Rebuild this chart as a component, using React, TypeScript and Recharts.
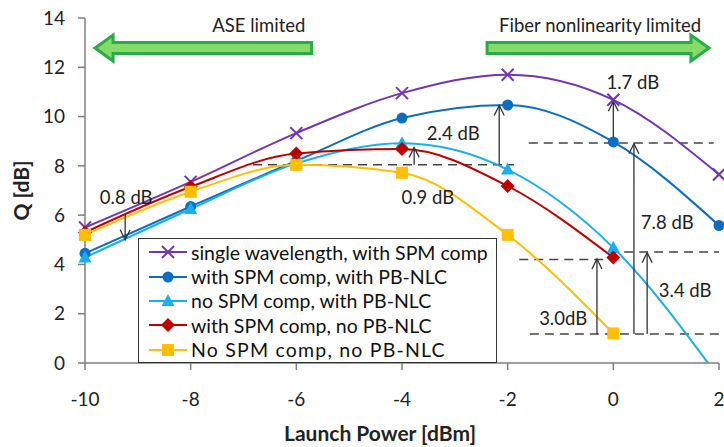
import { LineChart, Line, XAxis, YAxis, ReferenceLine, ReferenceDot } from "recharts";

// Launch power sweep (dBm) and Q factor (dB) per configuration
const POWER = [-10, -8, -6, -4, -2, 0, 2];
const POWER_TICKS = [-10, -8, -6, -4, -2, 0, 2];
const Q_TICKS = [0, 2, 4, 6, 8, 10, 12, 14];

const SINGLE_SPM = [5.5, 7.35, 9.33, 10.95, 11.7, 10.68, 7.65];
const SPM_PBNLC = [4.45, 6.35, 8.2, 9.94, 10.47, 8.97, 5.58];
const NOSPM_PBNLC = [4.28, 6.25, 8.1, 8.92, 7.85, 4.68, -0.6];
const SPM_NOPBNLC = [5.3, 7.15, 8.5, 8.68, 7.18, 4.28, null];
const NOSPM_NOPBNLC = [5.2, 6.95, 8.04, 7.72, 5.2, 1.2, null];

const SERIES = [
  { key: "single", name: "single wavelength, with SPM comp", color: "#7435b0", marker: "cross", values: SINGLE_SPM },
  { key: "spmNlc", name: "with SPM comp, with PB-NLC", color: "#0a6fc2", marker: "circle", values: SPM_PBNLC },
  { key: "nlc", name: "no SPM comp, with PB-NLC", color: "#17b0ef", marker: "triangle", values: NOSPM_PBNLC },
  { key: "spm", name: "with SPM comp, no PB-NLC", color: "#c00000", marker: "diamond", values: SPM_NOPBNLC },
  { key: "none", name: "No SPM comp, no PB-NLC", color: "#ffbf00", marker: "square", values: NOSPM_NOPBNLC },
];

// annotations, in data coordinates
const DB_ARROWS = [
  { x: -9.24, from: 6.05, to: 5.0 },
  { x: -3.77, from: 8.04, to: 8.75 },
  { x: -2.16, from: 8.04, to: 10.45 },
  { x: 0, from: 8.97, to: 10.62 },
  { x: 0.39, from: 1.18, to: 8.9 },
  { x: 0.64, from: 1.18, to: 4.48 },
  { x: -0.31, from: 1.18, to: 4.22 },
];
const DASHES = [
  { y: 8.04, from: -6.82, to: -1.88 },
  { y: 8.93, from: -1.6, to: 1.9 },
  { y: 4.5, from: -0.08, to: 2 },
  { y: 4.2, from: -1.78, to: 0.03 },
  { y: 1.18, from: -1.58, to: 2 },
];
const NOTES = [
  { text: "0.8 dB", x: -9.22, y: 6.74 },
  { text: "0.9 dB", x: -3.51, y: 6.74 },
  { text: "2.4 dB", x: -3.03, y: 9.33 },
  { text: "1.7 dB", x: 0.37, y: 11.4 },
  { text: "7.8 dB", x: 1.02, y: 5.72 },
  { text: "3.4 dB", x: 1.36, y: 2.96 },
  { text: "3.0dB", x: -0.95, y: 1.83 },
  { text: "ASE limited", x: -6.71, y: 13.72 },
  { text: "Fiber nonlinearity limited", x: -0.25, y: 13.72 },
];
const REGIME_ARROWS = [
  { from: -5.71, to: -9.81, y: 12.78 },
  { from: -2.39, to: 1.81, y: 12.78 },
];

const data = POWER.map((p, i) => {
  const row: Record<string, number | null> = { power: p };
  SERIES.forEach((s) => (row[s.key] = s.values[i]));
  return row;
});

const FONT = "Lato, 'Open Sans', sans-serif";

function Marker({ kind, color, cx, cy }: { kind: string; color: string; cx: number; cy: number }) {
  if (kind === "cross")
    return (
      <g stroke={color} strokeWidth={2}>
        <line x1={cx - 6} y1={cy - 6} x2={cx + 6} y2={cy + 6} />
        <line x1={cx - 6} y1={cy + 6} x2={cx + 6} y2={cy - 6} />
      </g>
    );
  if (kind === "circle") return <circle cx={cx} cy={cy} r={5.5} fill={color} />;
  if (kind === "triangle")
    return <polygon points={`${cx},${cy - 7} ${cx + 6.5},${cy + 5} ${cx - 6.5},${cy + 5}`} fill={color} />;
  if (kind === "diamond")
    return <polygon points={`${cx},${cy - 7} ${cx + 7},${cy} ${cx},${cy + 7} ${cx - 7},${cy}`} fill={color} />;
  return <rect x={cx - 6} y={cy - 6} width={12} height={12} fill={color} />;
}

function arrowShape(props: any) {
  const { x1, y1, x2, y2 } = props;
  const d = y2 < y1 ? 1 : -1;
  return (
    <g stroke="#333" strokeWidth={1.3} fill="none">
      <line x1={x1} y1={y1} x2={x2} y2={y2} />
      <polyline points={`${x2 - 5},${y2 + d * 10} ${x2},${y2} ${x2 + 5},${y2 + d * 10}`} />
    </g>
  );
}

function greenArrowShape(props: any) {
  const { x1, x2, y1 } = props;
  const d = x2 > x1 ? 1 : -1;
  const hx = x2 - d * 18;
  const y = y1;
  const pts = [
    [x1, y - 5.5],
    [hx, y - 5.5],
    [hx, y - 13],
    [x2, y],
    [hx, y + 13],
    [hx, y + 5.5],
    [x1, y + 5.5],
  ]
    .map((p) => p.join(","))
    .join(" ");
  return <polygon points={pts} fill="#86d96a" stroke="#27ad45" strokeWidth={3} strokeLinejoin="miter" />;
}

function noteShape(text: string) {
  return (props: any) => (
    <text
      x={props.cx}
      y={props.cy}
      textAnchor="middle"
      dominantBaseline="central"
      fontFamily={FONT}
      fontSize={18.5}
      fill="#222"
    >
      {text}
    </text>
  );
}

function yTitle(props: any) {
  const { viewBox } = props;
  const x = viewBox.x + 20;
  const y = viewBox.y + viewBox.height / 2;
  return (
    <text
      x={x}
      y={y}
      transform={`rotate(-90, ${x}, ${y})`}
      textAnchor="middle"
      dominantBaseline="central"
      fontFamily={FONT}
      fontWeight={700}
      fontSize={21}
      fill="#222"
    >
      Q [dB]
    </text>
  );
}

export default function App() {
  return (
    <div style={{ position: "absolute", left: 0, top: 0, width: 724, height: 447, background: "#fff" }}>
      <LineChart width={724} height={447} data={data} margin={{ top: 18, right: 5, bottom: 0, left: 0 }}>
        <XAxis
          dataKey="power"
          type="number"
          domain={[-10, 2]}
          ticks={POWER_TICKS}
          height={84}
          tickSize={7}
          tickMargin={23}
          stroke="#7f7f7f"
          strokeWidth={1.5}
          tick={{ fill: "#222", fontSize: 19, fontFamily: FONT }}
          label={{
            value: "Launch Power [dBm]",
            position: "insideBottom",
            offset: 6,
            dx: -22,
            style: { fontFamily: FONT, fontWeight: 700, fontSize: 21, fill: "#222" },
          }}
        />
        <YAxis
          type="number"
          domain={[0, 14]}
          ticks={Q_TICKS}
          allowDataOverflow
          width={85}
          tickSize={7}
          tickMargin={13}
          stroke="#7f7f7f"
          strokeWidth={1.5}
          tick={{ fill: "#222", fontSize: 19, fontFamily: FONT }}
          label={{ content: yTitle }}
        />
        {DASHES.map((d, i) => (
          <ReferenceLine
            key={`dash-${i}`}
            segment={[
              { x: d.from, y: d.y },
              { x: d.to, y: d.y },
            ]}
            stroke="#444"
            strokeWidth={1.5}
            strokeDasharray="9 6"
          />
        ))}
        {SERIES.map((s) => (
          <Line
            key={s.key}
            dataKey={s.key}
            name={s.name}
            type="monotone"
            stroke={s.color}
            strokeWidth={2}
            isAnimationActive={false}
            dot={(p: any) =>
              p.cx == null || p.cy == null || p.value == null ? (
                <g key={`${s.key}-${p.index}`} />
              ) : (
                <Marker key={`${s.key}-${p.index}`} kind={s.marker} color={s.color} cx={p.cx} cy={p.cy} />
              )
            }
            activeDot={false}
          />
        ))}
        {DB_ARROWS.map((a, i) => (
          <ReferenceLine
            key={`arrow-${i}`}
            segment={[
              { x: a.x, y: a.from },
              { x: a.x, y: a.to },
            ]}
            shape={arrowShape}
          />
        ))}
        {REGIME_ARROWS.map((a, i) => (
          <ReferenceLine
            key={`regime-${i}`}
            segment={[
              { x: a.from, y: a.y },
              { x: a.to, y: a.y },
            ]}
            shape={greenArrowShape}
          />
        ))}
        {NOTES.map((n, i) => (
          <ReferenceDot key={`note-${i}`} x={n.x} y={n.y} r={1} shape={noteShape(n.text)} />
        ))}
      </LineChart>
      <div
        style={{
          position: "absolute",
          left: 138,
          top: 238,
          width: 359,
          height: 125,
          border: "1.5px solid #333",
          background: "#fff",
          fontFamily: FONT,
          fontSize: 19.5,
          color: "#111",
          boxSizing: "border-box",
          paddingTop: 1,
        }}
      >
        {SERIES.map((s, i) => (
          <div key={s.key} style={{ display: "flex", alignItems: "center", height: 24.4, whiteSpace: "nowrap" }}>
            <svg width={50} height={20} style={{ flex: "none", marginLeft: 8 }}>
              <line x1={2} y1={10} x2={40} y2={10} stroke={s.color} strokeWidth={2} />
              <Marker kind={s.marker} color={s.color} cx={21} cy={10} />
            </svg>
            <span style={{ marginLeft: -6, letterSpacing: i === 4 ? 1.2 : 0 }}>{s.name}</span>
          </div>
        ))}
      </div>
    </div>
  );
}
